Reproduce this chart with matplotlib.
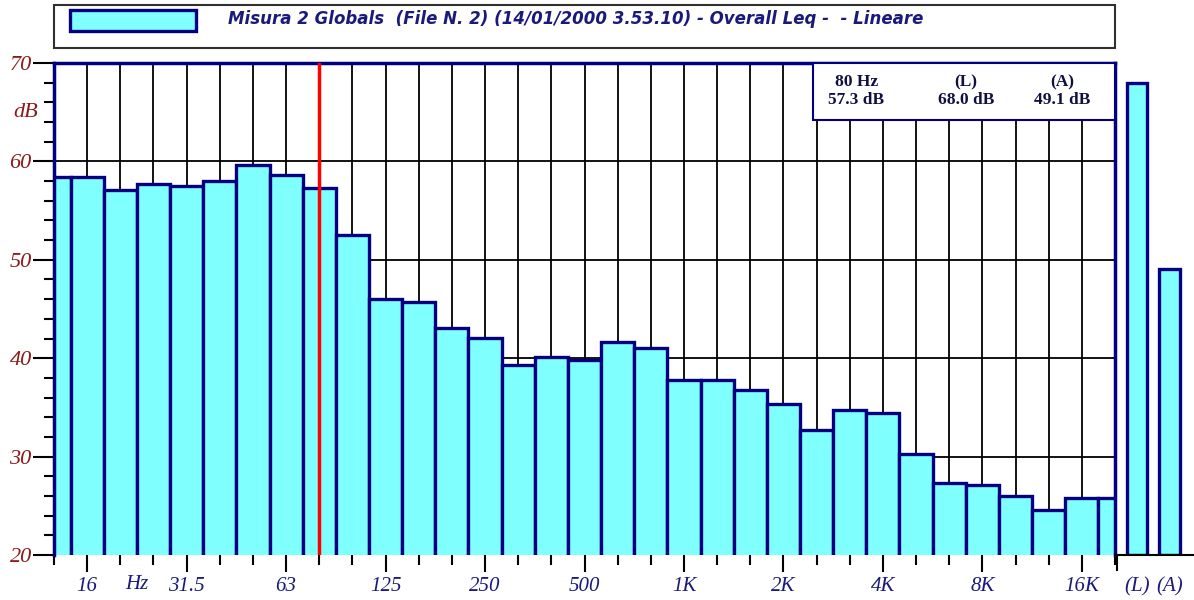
import matplotlib
matplotlib.use('Agg')
import matplotlib.pyplot as plt
from matplotlib.patches import Rectangle

# 1/3 octave band levels, 12.5 Hz .. 20 kHz
bands = ['12.5', '16', '20', '25', '31.5', '40', '50', '63', '80', '100', '125', '160',
         '200', '250', '315', '400', '500', '630', '800', '1K', '1.25K', '1.6K', '2K',
         '2.5K', '3.15K', '4K', '5K', '6.3K', '8K', '10K', '12.5K', '16K', '20K']
levels = [58.4, 58.4, 57.1, 57.7, 57.5, 58.0, 59.6, 58.6, 57.3, 52.5, 46.0, 45.7,
          43.1, 42.1, 39.3, 40.1, 39.8, 41.6, 41.0, 37.8, 37.8, 36.8, 35.3,
          32.7, 34.7, 34.4, 30.3, 27.3, 27.1, 26.0, 24.6, 25.8, 25.8]
labelled = ['16', '31.5', '63', '125', '250', '500', '1K', '2K', '4K', '8K', '16K']
overall_names = ['(L)', '(A)']
overall_levels = [68.0, 49.1]
cursor_band = '80'
info_cols = ['80 Hz\n57.3 dB', '(L)\n68.0 dB', '(A)\n49.1 dB']
title = 'Misura 2 Globals  (File N. 2) (14/01/2000 3.53.10) - Overall Leq -  - Lineare'

cyan = '#80ffff'
navy = '#000080'
red_lab = '#8b1a1a'
blue_lab = '#1a1a7a'

W, H = 1194, 600
fig = plt.figure(figsize=(W / 100, H / 100), dpi=100)

x0, x1, ytop, ybot = 54, 1115, 63, 555
ax = fig.add_axes([x0 / W, 1 - ybot / H, (x1 - x0) / W, (ybot - ytop) / H])
xs = list(range(len(bands)))
ax.set_xlim(0, len(bands) - 1)
ax.set_ylim(20, 70)

# grid
for i in xs[1:-1]:
    ax.axvline(i, color='black', lw=1.3, zorder=0)
for v in [30, 40, 50, 60]:
    ax.axhline(v, color='black', lw=1.3, zorder=0)

ax.bar(xs, [v - 19.5 for v in levels], bottom=19.5, width=1.0, color=cyan,
       edgecolor=navy, linewidth=2.4, zorder=2)

ax.axvline(bands.index(cursor_band), color='red', lw=2.5, zorder=4)

# info box
ax.add_patch(Rectangle((22.9, 64.2), 32 - 22.9, 70 - 64.2, facecolor='white',
                       edgecolor=navy, lw=1.5, zorder=5, clip_on=False))
for xc, t in zip([24.2, 27.5, 30.4], info_cols):
    ax.text(xc, 67.15, t, ha='center', va='center', fontsize=12.5,
            family='Liberation Serif', weight='bold', color='#101040',
            linespacing=1.1, zorder=6)

for s in ['top', 'left', 'right']:
    ax.spines[s].set_color(navy)
    ax.spines[s].set_linewidth(2.5)
    ax.spines[s].set_zorder(3)
ax.spines['bottom'].set_visible(False)

# ticks
major = [bands.index(b) for b in labelled]
ax.set_xticks(major)
ax.set_xticklabels(labelled)
ax.set_xticks([i for i in xs if i not in major], minor=True)
ax.tick_params(axis='x', which='major', direction='out', length=12, width=1.5,
               color='black', pad=4, labelsize=15, labelcolor=blue_lab)
ax.tick_params(axis='x', which='minor', direction='out', length=7, width=1.5,
               color='black')
for lab in ax.get_xticklabels():
    lab.set_family('Liberation Serif')
    lab.set_style('italic')
ax.text(2.5, -0.06, 'Hz', transform=ax.get_xaxis_transform(), ha='center',
        va='center', fontsize=15, family='Liberation Serif', style='italic',
        color=blue_lab)

ax.set_yticks([20, 30, 40, 50, 60, 70])
ax.set_yticks([v for v in range(22, 70, 2) if v % 10], minor=True)
ax.tick_params(axis='y', which='major', direction='out', length=15, width=1.5,
               color='black', pad=1, labelsize=16, labelcolor=red_lab)
ax.tick_params(axis='y', which='minor', direction='out', length=7, width=1.5,
               color='black')
for lab in ax.get_yticklabels():
    lab.set_family('Liberation Serif')
    lab.set_style('italic')
ax.text(-0.027, 65, 'dB', transform=ax.get_yaxis_transform(), ha='center',
        va='center', fontsize=16, family='Liberation Serif', style='italic',
        color=red_lab)

# overall L / A bars
ax2 = fig.add_axes([x1 / W, 1 - ybot / H, (W - x1) / W, (ybot - ytop) / H])
ax2.patch.set_alpha(0)
ax2.set_ylim(20, 70)
ax2.set_xlim(-0.677, 1.754)
ax2.bar(range(len(overall_names)), [v - 20 for v in overall_levels], bottom=20,
        width=0.62, color=cyan, edgecolor=navy, linewidth=2.4, zorder=2)
for s in ['top', 'left', 'right']:
    ax2.spines[s].set_visible(False)
ax2.spines['bottom'].set_linewidth(1.5)
ax2.set_yticks([])
ax2.set_xticks(range(len(overall_names)))
ax2.set_xticklabels(overall_names)
ax2.tick_params(axis='x', length=0, pad=16, labelsize=15, labelcolor=blue_lab)
for lab in ax2.get_xticklabels():
    lab.set_family('Liberation Serif')
    lab.set_style('italic')
ax2.plot([-0.62, -0.62], [20, 18.5], color='black', lw=1.5, clip_on=False)

# legend box
fig.patches.append(Rectangle((54 / W, 1 - 48 / H), (1115 - 54) / W, 43 / H,
                             transform=fig.transFigure, facecolor='white',
                             edgecolor='#303030', lw=1.5))
fig.patches.append(Rectangle((70 / W, 1 - 31 / H), 126 / W, 21 / H,
                             transform=fig.transFigure, facecolor=cyan,
                             edgecolor=navy, lw=2.4))
fig.text(228 / W, 1 - 19 / H, title, ha='left', va='center', fontsize=12,
         family='DejaVu Sans', weight='bold', style='italic', color=blue_lab)

fig.savefig('out.png', dpi=100)
